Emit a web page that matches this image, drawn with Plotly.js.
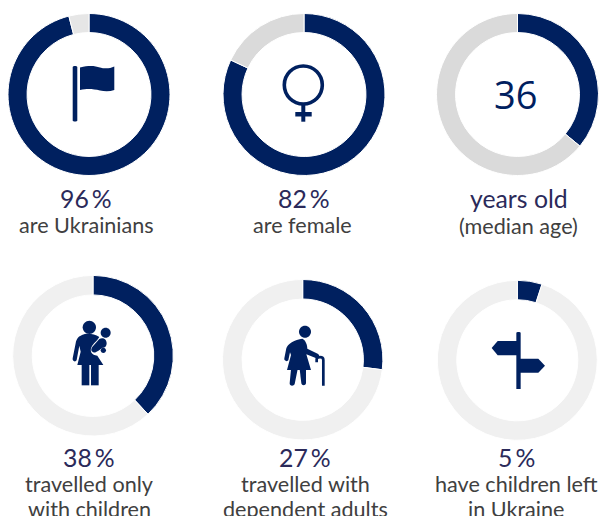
<!DOCTYPE html>
<html>
<head>
<meta charset="utf-8">
<script src="https://cdn.plot.ly/plotly-3.0.1.min.js"></script>
<style>html,body{margin:0;padding:0;background:#fff}#c{width:599px;height:516px}</style>
</head>
<body>
<div id="c"></div>
<script>
// Data
var shares = [96, 82, 36, 38, 27, 5];
var headlines = ['96\u2009%', '82\u2009%', 'years old', '38\u2009%', '27\u2009%', '5\u2009%'];
var line1 = ['are Ukrainians', 'are female', '(median age)', 'travelled only', 'travelled with', 'have children left'];
var line2 = ['', '', '', 'with children', 'dependent adults', 'in Ukraine'];
var centerText = '36';

// Layout geometry (pixels)
var W = 599, H = 516;
var cx = [89, 304, 517.5, 93, 302.7, 517.3];
var cy = [94.5, 94.5, 94.5, 355.7, 359.7, 360.3];
var rad = [81, 81, 81, 80.3, 80.2, 80];
var holes = [0.765, 0.765, 0.765, 0.757, 0.757, 0.757];
var restColor = ['#E6E6E6', '#DADADA', '#DADADA', '#F0F0F0', '#F0F0F0', '#F0F0F0'];
var headX = [86, 303.5, 518.5, 88.5, 305, 516];
var headY = [198.5, 198.5, 198.5, 457.5, 457.5, 457.5];
var l1X = [86, 302, 518.5, 89, 305, 516];
var l1Y = [225, 225, 225.5, 484, 484, 484];
var l2Y = 508.5;

var NAVY = '#00205F', INK = '#2B2A5A', GREY = '#404040';
function px(x) { return x / W; }
function py(y) { return 1 - y / H; }

var traces = shares.map(function (v, i) {
  return {
    type: 'pie', values: [v, 100 - v], labels: ['share', 'rest'],
    sort: false, direction: 'clockwise', rotation: 0, hole: holes[i],
    textinfo: 'none', hoverinfo: 'skip', showlegend: false,
    marker: { colors: [NAVY, restColor[i]], line: { color: '#FFFFFF', width: 1 } },
    domain: { x: [px(cx[i] - rad[i]), px(cx[i] + rad[i])], y: [py(cy[i] + rad[i]), py(cy[i] - rad[i])] }
  };
});

function note(text, x, y, size, color, family) {
  return { text: text, x: px(x), y: py(y), xref: 'paper', yref: 'paper', showarrow: false,
    xanchor: 'center', yanchor: 'middle', borderpad: 0,
    font: { size: size, color: color, family: family || 'Lato, sans-serif' } };
}
var annotations = [];
shares.forEach(function (v, i) {
  annotations.push(note(headlines[i], headX[i], headY[i], 24.8, INK));
  annotations.push(note(line1[i], l1X[i], l1Y[i], 21.6, GREY));
  if (line2[i]) annotations.push(note(line2[i], l1X[i], l2Y, 21.6, GREY));
});
annotations.push(note(centerText, 515.5, 93.7, 38, NAVY, '"Open Sans", sans-serif'));

// Pictograms: path strings in a local grid, mapped into paper space
function mapPath(d, ox, oy, s) {
  var k = 0;
  return d.replace(/-?\d+(\.\d+)?/g, function (n) {
    var val = parseFloat(n);
    var out = (k % 2 === 0) ? px(ox + val * s) : py(oy + val * s);
    k++;
    return out.toFixed(6);
  });
}
function circ(c, r) {
  var a = r * 0.5523, x = c[0], y = c[1];
  return 'M' + (x - r) + ' ' + y +
    ' C' + (x - r) + ' ' + (y - a) + ' ' + (x - a) + ' ' + (y - r) + ' ' + x + ' ' + (y - r) +
    ' C' + (x + a) + ' ' + (y - r) + ' ' + (x + r) + ' ' + (y - a) + ' ' + (x + r) + ' ' + y +
    ' C' + (x + r) + ' ' + (y + a) + ' ' + (x + a) + ' ' + (y + r) + ' ' + x + ' ' + (y + r) +
    ' C' + (x - a) + ' ' + (y + r) + ' ' + (x - r) + ' ' + (y + a) + ' ' + (x - r) + ' ' + y + ' Z';
}
function fill(d, ox, oy, s, color) {
  return { type: 'path', xref: 'paper', yref: 'paper', path: mapPath(d, ox, oy, s),
    fillcolor: color || NAVY, line: { width: 0 } };
}
function stroke(d, ox, oy, s, w, color) {
  return { type: 'path', xref: 'paper', yref: 'paper', path: mapPath(d, ox, oy, s),
    fillcolor: 'rgba(0,0,0,0)', line: { color: color || NAVY, width: w } };
}
var t = 1 / 3;
var shapes = [
  // flag
  fill('M72.7 67 C72.7 65.5 77.3 65.5 77.3 67 L77.3 120.5 C77.3 122 72.7 122 72.7 120.5 Z', 0, 0, 1),
  fill('M80 67.5 C90 65 95 66 100 67.5 C105 69 110 68.5 114.3 66.5 L114.3 90 C110 91.5 105 91.5 100 90.5 C93 89 88 88.5 80 90 Z', 0, 0, 1),
  // female symbol
  stroke(circ([303.3, 85], 19), 0, 0, 1, 3.6),
  fill('M301.3 104 L305.3 104 L305.3 121.7 L301.3 121.7 Z', 0, 0, 1),
  fill('M295.3 112 L311.7 112 L311.7 116.5 L295.3 116.5 Z', 0, 0, 1),
  // mother with child
  fill(circ([88, 37], 20), 60, 315, t),
  fill('M66 60 C78 54 100 54 118 66 C110 80 100 85 95 95 C88 108 95 120 112 122 L130 150 L52 150 L62 110 L58 92 L50 135 C48 142 36 140 38 130 L47 85 C50 70 55 65 66 60 Z', 60, 315, t),
  fill('M65 148 L88 148 L88 211 L65 211 Z', 60, 315, t),
  fill('M93 148 L116 148 L116 211 L93 211 Z', 60, 315, t),
  fill(circ([137, 53], 15), 60, 315, t),
  fill('M118 72 C128 66 140 72 140 85 C140 92 136 100 128 98 C118 105 105 115 100 112 C92 108 92 100 100 92 Z', 60, 315, t),
  fill(circ([130, 106], 8), 60, 315, t),
  // elderly person with cane
  fill(circ([90, 35], 18), 275, 320, t),
  fill('M82 56 C92 60 97 75 97 86 L128 101 C136 105 132 119 124 115 L94 103 L108 150 L36 150 L48 105 L45 97 L40 121 C37 126 26 123 28 115 L34 85 C36 73 60 58 82 56 Z', 275, 320, t),
  fill('M48 148 L68 148 L59 192 C56 200 43 198 44 190 Z', 275, 320, t),
  fill('M74 148 L93 148 L93 190 C92 198 80 198 79 190 Z', 275, 320, t),
  stroke('M125 127 L125 118 C125 110 145 108 145 120 L145 197', 275, 320, t, 2.7),
  // signpost
  fill('M94 24 C94 20 107 20 107 24 L107 192 L94 192 Z', 485, 325, t),
  fill('M20 69 L38 48 L100 48 L100 91 L38 91 Z', 485, 325, t),
  fill('M100 101 L160 101 L180 122 L160 143 L100 143 Z', 485, 325, t)
];

Plotly.newPlot('c', traces, {
  width: W, height: H, margin: { l: 0, r: 0, t: 0, b: 0, pad: 0 },
  paper_bgcolor: '#FFFFFF', showlegend: false,
  annotations: annotations, shapes: shapes
}, { displayModeBar: false, staticPlot: true });
</script>
</body>
</html>
